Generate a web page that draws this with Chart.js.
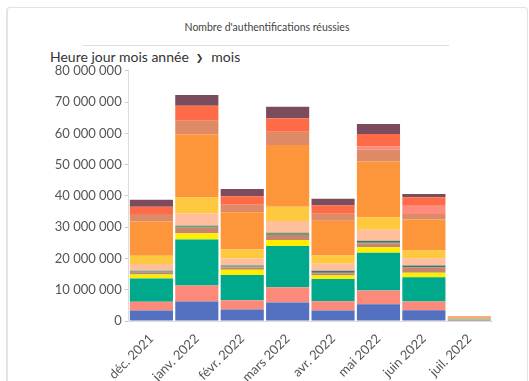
<!DOCTYPE html>
<html lang="fr">
<head>
  <meta charset="UTF-8" />
  <title>Nombre d'authentifications réussies</title>
  <script src="https://cdn.jsdelivr.net/npm/chart.js"></script>
  <style>
    html, body {
      margin: 0;
      padding: 0;
      width: 529px;
      height: 381px;
      overflow: hidden;
      background: #fff;
      font-family: Lato, 'Open Sans', sans-serif;
    }
    .top-label {
      position: absolute;
      left: 8px;
      top: -11px;
      font-size: 11px;
      color: #777;
    }
    .card {
      position: absolute;
      left: 6px;
      top: 7px;
      width: 519px;
      height: 390px;
      border: 1px solid #e2e2e2;
      border-left: 2px solid #e4e4e4;
      border-radius: 4px;
      background: #fff;
    }
    .title {
      position: absolute;
      left: 0;
      top: 27px;
      width: 534px;
      text-align: center;
      font-size: 10.5px;
      color: #444;
      transform: translateY(-50%);
      white-space: nowrap;
    }
    .rule {
      position: absolute;
      left: 83px;
      top: 45px;
      width: 366px;
      height: 1px;
      background: #ddd;
    }
    .crumb {
      position: absolute;
      left: 50px;
      top: 56px;
      transform: translateY(-50%);
      font-size: 14px;
      color: #333;
      white-space: nowrap;
    }
    .crumb b {
      font-family: 'DejaVu Sans', sans-serif;
      font-size: 9px;
      margin: 0 8px 0 7px;
      position: relative;
      top: -1px;
    }
    #chart {
      position: absolute;
      left: 0;
      top: 60px;
    }
  </style>
</head>
<body>
<div class="top-label">Entité</div>
<div class="card"></div>
<div class="title">Nombre d'authentifications réussies</div>
<div class="rule"></div>
<div class="crumb">Heure jour mois année<b>❯</b>mois</div>
<canvas id="chart" width="529" height="321"></canvas>

<script>
  // months on the x axis
  const months = ['déc. 2021', 'janv. 2022', 'févr. 2022', 'mars 2022', 'avr. 2022', 'mai 2022', 'juin 2022', 'juil. 2022'];

  // stacked series, bottom to top (values in millions)
  const serieBlue       = [3.35, 6.23, 3.67, 5.90, 3.35, 5.37, 3.45, 0.10];
  const serieSalmon     = [2.78, 5.10, 3.00, 4.90, 2.94, 4.38, 2.78, 0.15];
  const serieTeal       = [7.44, 14.7, 8.00, 13.2, 7.10, 12.1, 7.76, 0.15];
  const serieYellow     = [1.28, 2.00, 1.75, 1.90, 1.15, 1.75, 1.40, 0.05];
  const serieBrown      = [0.60, 1.80, 0.70, 1.60, 0.75, 1.20, 1.60, 0.10];
  const serieGreen      = [0.35, 0.55, 0.35, 0.65, 0.40, 0.45, 0.25, 0.10];
  const serieSlate      = [0.30, 0.10, 0.25, 0.10, 0.35, 0.40, 0.50, 0.05];
  const seriePeach      = [2.14, 3.93, 2.24, 3.70, 2.24, 3.50, 2.36, 0.10];
  const serieGold       = [2.65, 5.10, 2.88, 4.60, 2.65, 4.06, 2.43, 0.10];
  const serieOrange     = [10.96, 20.2, 11.9, 19.7, 11.1, 17.8, 9.90, 0.30];
  const serieTerracotta = [2.36, 4.28, 2.46, 4.30, 2.24, 3.74, 1.82, 0.10];
  const seriePink       = [0.00, 0.00, 0.00, 0.00, 0.00, 1.05, 2.88, 0.05];
  const serieTomato     = [2.33, 4.80, 2.65, 4.25, 2.65, 3.96, 2.46, 0.15];
  const serieMauve      = [2.24, 3.50, 2.36, 3.70, 2.14, 3.20, 1.05, 0.05];

  const yTicks = [0, 10, 20, 30, 40, 50, 60, 70, 80];

  const series = [
    [serieBlue, '#5470c1'],
    [serieSalmon, '#fc8a7b'],
    [serieTeal, '#00a88c'],
    [serieYellow, '#ffee00'],
    [serieBrown, '#c8846c'],
    [serieGreen, '#6d9b72'],
    [serieSlate, '#4d6f73'],
    [seriePeach, '#ffbe9c'],
    [serieGold, '#fec93e'],
    [serieOrange, '#fd963b'],
    [serieTerracotta, '#de8a66'],
    [seriePink, '#fd8b7e'],
    [serieTomato, '#ff6a47'],
    [serieMauve, '#7b4b5e']
  ];

  const M = 1000000;
  const fmt = v => String(Math.round(v)).replace(/\B(?=(\d{3})+(?!\d))/g, ' ');

  new Chart(document.getElementById('chart'), {
    type: 'bar',
    data: {
      labels: months,
      datasets: series.map(([vals, color]) => ({
        data: vals.map(v => v * M),
        backgroundColor: color,
        borderWidth: 0,
        barPercentage: 0.95,
        categoryPercentage: 1
      }))
    },
    options: {
      responsive: false,
      animation: false,
      layout: { padding: { top: 10, right: 37, bottom: 0, left: 0 } },
      plugins: { legend: { display: false }, tooltip: { enabled: false } },
      scales: {
        x: {
          stacked: true,
          grid: { display: false },
          border: { color: '#ddd' },
          ticks: {
            color: '#555',
            font: { family: 'Lato', size: 13 },
            minRotation: 45,
            maxRotation: 45,
            padding: 2
          },
          afterFit: s => { s.height = 60; }
        },
        y: {
          stacked: true,
          min: 0,
          max: 80 * M,
          afterBuildTicks: s => { s.ticks = yTicks.map(v => ({ value: v * M })); },
          grid: { drawOnChartArea: false, tickLength: 4, color: '#ccc' },
          border: { color: '#ddd' },
          ticks: {
            color: '#555',
            font: { family: 'Lato', size: 13 },
            padding: 3,
            callback: v => fmt(v)
          },
          afterFit: s => { s.width = 128.7; }
        }
      }
    }
  });
</script>
</body>
</html>
